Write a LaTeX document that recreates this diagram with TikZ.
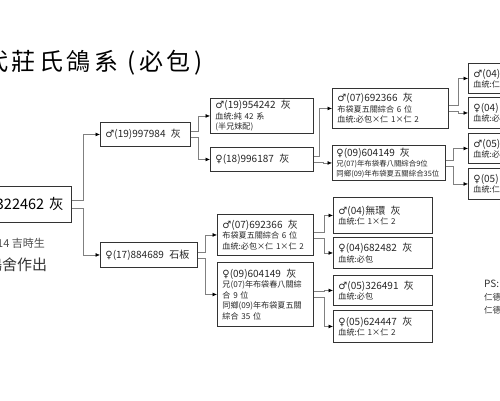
\documentclass[tikz,border=0pt]{standalone}
\usepackage{fontspec}
\setmainfont{Noto Sans CJK TC}
\newfontfamily\symfont{DejaVu Sans}
\usetikzlibrary{arrows.meta,positioning}
\newcommand{\msym}{{\symfont\char"2642}}
\newcommand{\fsym}{{\symfont\char"2640}}
\newcommand{\pname}[1]{{\fontsize{10}{12}\selectfont #1}}

\begin{document}
\begin{tikzpicture}[x=1pt, y=-1pt,
    pbox/.style={draw=black!80, line width=0.9pt, anchor=north west, align=left, inner xsep=5pt, inner ysep=1pt, font=\fontsize{8.1}{10.4}\selectfont, text=black!85},
    link/.style={draw=black!50, line width=0.6pt, -{Latex[length=4.5pt,width=4pt,color=black]}}]
    \useasboundingbox (0,0) rectangle (500,400);
    \clip (0,0) rectangle (500,400);

    % Title and notes on the left
    \node [anchor=west, inner sep=0pt, font=\fontsize{24}{26}\selectfont\addfontfeatures{LetterSpace=15}] (title) at (-16,63) {代莊氏鴿系 (必包)};
    \node [pbox, anchor=east, align=right, text width=100pt, minimum height=36pt, inner xsep=8pt, font=\fontsize{14.5}{16}\selectfont, text=black] (root) at (72,204) {322462 灰};
    \node [anchor=west, inner sep=0pt, text=black!70, font=\fontsize{11}{12}\selectfont] (born) at (-3,243) {14 吉時生};
    \node [anchor=west, inner sep=0pt, text=black!80, font=\fontsize{15}{16}\selectfont] (loft) at (-13,265) {鴿舍作出};

    % Parents
    \node [pbox, text width=80pt, minimum height=24pt] (sire) at (100,122) {\pname{\msym(19)997984\ \ 灰}};
    \node [pbox, text width=87pt, minimum height=25pt] (dam) at (100,242) {\pname{\fsym(17)884689\ \ 石板}};

    % Grandparents
    \node [pbox, text width=93pt, minimum height=35pt] (ss) at (210,98) {\pname{\msym(19)954242\ \ 灰}\\血統:純 42 系\\(半兄妹配)};
    \node [pbox, text width=93pt, minimum height=24pt] (sd) at (210,147) {\pname{\fsym(18)996187\ \ 灰}};
    \node [pbox, text width=86pt, minimum height=41pt] (ds) at (217,214) {\pname{\msym(07)692366\ \ 灰}\\布袋夏五關綜合 6 位\\血統:必包×仁 1×仁 2};
    \node [pbox, text width=86pt, minimum height=64pt] (dd) at (217,262) {\pname{\fsym(09)604149\ \ 灰}\\兄(07)年布袋春八關綜\\合 9 位\\同鄉(09)年布袋夏五關\\綜合 35 位};

    % Great-grandparents
    \node [pbox, text width=106pt, minimum height=40pt] (sds) at (332,88) {\pname{\msym(07)692366\ \ 灰}\\布袋夏五關綜合 6 位\\血統:必包×仁 1×仁 2};
    \node [pbox, text width=105pt, minimum height=35pt, inner xsep=4pt, font=\fontsize{7.4}{10}\selectfont] (sdd) at (332,145) {\pname{\fsym(09)604149\ \ 灰}\\兄(07)年布袋春八關綜合9位\\同鄉(09)年布袋夏五關綜合35位};
    \node [pbox, text width=89pt, minimum height=36pt] (dss) at (333,197) {\pname{\msym(04)無環\ \ 灰}\\血統:仁 1×仁 2};
    \node [pbox, text width=89pt, minimum height=31pt] (dsd) at (333,237) {\pname{\fsym(04)682482\ \ 灰}\\血統:必包};
    \node [pbox, text width=89pt, minimum height=30pt] (dds) at (333,275) {\pname{\msym(05)326491\ \ 灰}\\血統:必包};
    \node [pbox, text width=89pt, minimum height=32pt] (ddd) at (333,310) {\pname{\fsym(05)624447\ \ 灰}\\血統:仁 1×仁 2};

    % Right column, cut by the page edge
    \node [pbox, text width=60pt, minimum height=30pt] (sdss) at (468,63) {\pname{\msym(04)}\\血統:仁};
    \node [pbox, text width=60pt, minimum height=31pt] (sdsd) at (468,97) {\pname{\fsym(04)}\\血統:必};
    \node [pbox, text width=60pt, minimum height=30pt] (sdds) at (468,133) {\pname{\msym(05)}\\血統:必};
    \node [pbox, text width=60pt, minimum height=31pt] (sddd) at (468,168) {\pname{\fsym(05)}\\血統:仁};

    \node [anchor=north west, inner sep=0pt, align=left, text=black!80, font=\fontsize{8.5}{13}\selectfont] (ps) at (484,280) {{\fontsize{10}{12}\selectfont PS:}\\仁德 1\\仁德 2};

    % Elbow Edges
    \draw[link] ([yshift=4pt]root.east) -- ++(11,0) |- (sire.west);
    \draw[link] ([yshift=-4pt]root.east) -- ++(11,0) |- (dam.west);
    \draw[link] ([yshift=3pt]sire.east) -- ++(7,0) |- (ss.west);
    \draw[link] ([yshift=-3pt]sire.east) -- ++(7,0) |- (sd.west);
    \draw[link] ([yshift=3pt]dam.east) -- ++(7,0) |- (ds.west);
    \draw[link] ([yshift=-3pt]dam.east) -- ++(7,0) |- (dd.west);
    \draw[link] ([yshift=3pt]sd.east) -- ++(5,0) |- (sds.west);
    \draw[link] ([yshift=-3pt]sd.east) -- ++(9,0) |- (sdd.west);
    \draw[link] ([yshift=3pt]ds.east) -- ++(10,0) |- (dss.west);
    \draw[link] ([yshift=-3pt]ds.east) -- ++(10,0) |- (dsd.west);
    \draw[link] ([yshift=3pt]dd.east) -- ++(10,0) |- (dds.west);
    \draw[link] ([yshift=-3pt]dd.east) -- ++(10,0) |- (ddd.west);
    \draw[link] ([yshift=3pt]sds.east) -- ++(9,0) |- (sdss.west);
    \draw[link] ([yshift=-3pt]sds.east) -- ++(9,0) |- (sdsd.west);
    \draw[link] ([yshift=3pt]sdd.east) -- ++(7,0) |- (sdds.west);
    \draw[link] ([yshift=-3pt]sdd.east) -- ++(7,0) |- (sddd.west);
\end{tikzpicture}
\end{document}
